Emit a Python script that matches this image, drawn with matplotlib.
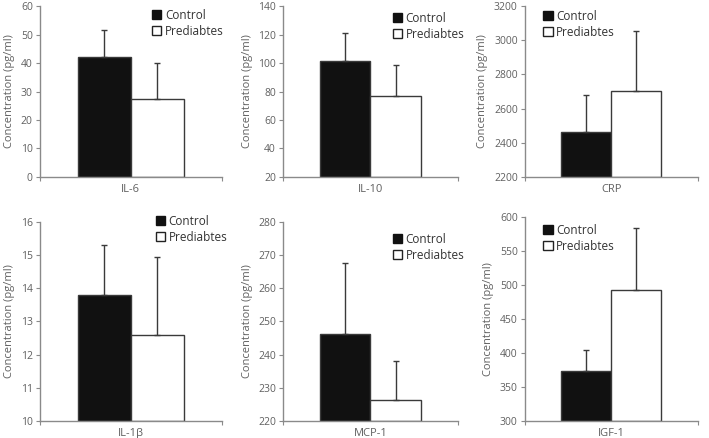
import matplotlib
matplotlib.use("Agg")
import matplotlib.pyplot as plt
from matplotlib.patches import Patch

plt.rcParams['font.family'] = ['Open Sans', 'DejaVu Sans']
plt.rcParams['font.size'] = 8

markers = ["IL-6", "IL-10", "CRP", "IL-1\u03b2", "MCP-1", "IGF-1"]
control = [42.2, 101.5, 2464, 13.81, 246.2, 373.5]
control_err = [9.3, 19.4, 216, 1.50, 21.5, 31.0]
prediab = [27.4, 76.6, 2704, 12.58, 226.2, 492.0]
prediab_err = [12.7, 21.8, 351, 2.36, 12.0, 92.0]
ylims = [(0, 60), (20, 140), (2200, 3200), (10, 16), (220, 280), (300, 600)]
ysteps = [10, 20, 200, 1, 10, 50]

# legend anchor per panel (axes fraction)
leg_x = [0.59, 0.60, 0.08, 0.61, 0.60, 0.08]
leg_y = [1.012, 0.995, 1.007, 1.06, 0.97, 0.99]

grey = "#8a8a8a"
txt = "#606060"
edge = "#3a3a3a"

fig = plt.figure(figsize=(7.09, 4.38), dpi=100)
fig.patch.set_facecolor('white')

# [left, bottom, width, height] per panel
boxes = [
    [0.056, 0.596, 0.257, 0.390],
    [0.399, 0.596, 0.247, 0.390],
    [0.740, 0.596, 0.244, 0.390],
    [0.056, 0.039, 0.257, 0.454],
    [0.399, 0.039, 0.247, 0.454],
    [0.740, 0.039, 0.244, 0.466],
]

w = 0.29
for i in range(6):
    ax = fig.add_axes(boxes[i])
    lo, hi = ylims[i]
    ax.bar(-w/2, control[i] - lo, w, bottom=lo, color="#111111", edgecolor=edge, linewidth=1.0)
    ax.bar(w/2, prediab[i] - lo, w, bottom=lo, color="white", edgecolor=edge, linewidth=1.0)
    ax.errorbar([-w/2], [control[i]], yerr=[[0], [control_err[i]]], fmt="none",
                ecolor=edge, elinewidth=1.0, capsize=2.5, capthick=1.0)
    ax.errorbar([w/2], [prediab[i]], yerr=[[0], [prediab_err[i]]], fmt="none",
                ecolor=edge, elinewidth=1.0, capsize=2.5, capthick=1.0)
    ax.set_xlim(-0.5, 0.5)
    ax.set_ylim(lo, hi)
    ax.set_yticks(list(range(lo, hi + 1, ysteps[i])))
    ax.set_xticks([-0.5, 0.5], ["", ""])
    ax.set_xticks([0], [markers[i]], minor=True)
    ax.tick_params(axis="x", which="major", direction="out", length=3, color=grey)
    ax.tick_params(axis="x", which="minor", length=0, pad=5, labelcolor=txt)
    ax.tick_params(axis="y", direction="out", length=3, color=grey, labelcolor=txt,
                   labelsize=7.5, pad=2)
    for s in ["top", "right"]:
        ax.spines[s].set_visible(False)
    for s in ["left", "bottom"]:
        ax.spines[s].set_color(grey)
        ax.spines[s].set_linewidth(1.0)
    ax.set_ylabel("Concentration (pg/ml)", color=txt, labelpad=4)
    handles = [Patch(facecolor="#111111", edgecolor="#111111", label="Control"),
               Patch(facecolor="white", edgecolor="#222222", label="Prediabtes")]
    ax.legend(handles=handles, loc="upper left", bbox_to_anchor=(leg_x[i], leg_y[i]),
              frameon=False, handlelength=0.8, handleheight=0.8, handletextpad=0.3,
              labelspacing=0.25, borderaxespad=0, fontsize=8.5, labelcolor="#333333")

fig.savefig("out.png", dpi=100)
